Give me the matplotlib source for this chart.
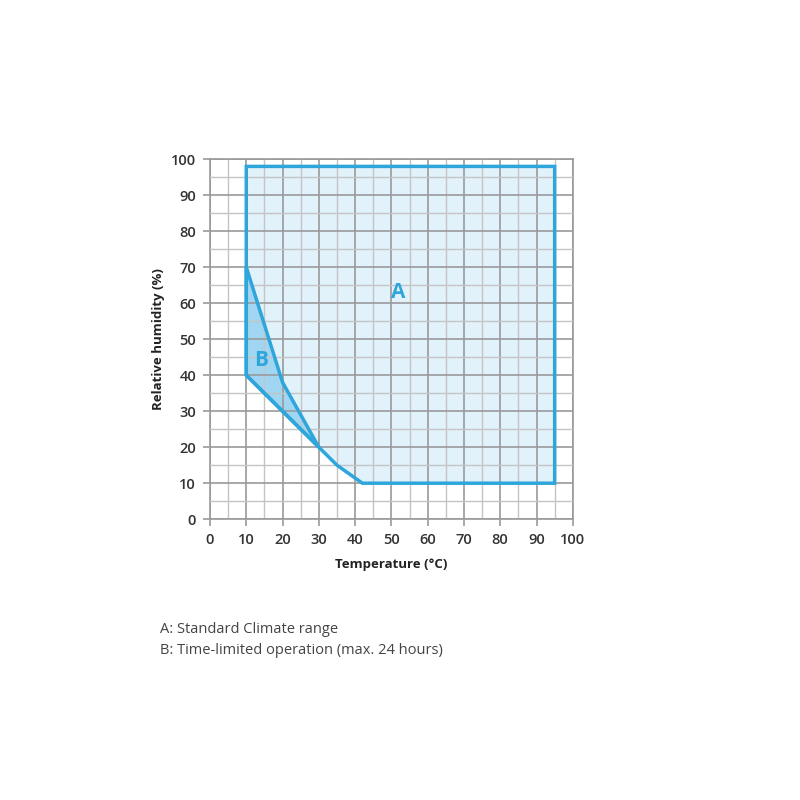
import matplotlib.pyplot as plt
from matplotlib.patches import Polygon

# region outlines (temperature in C, relative humidity in %)
range_a_temp = [10, 95, 95, 42, 35, 30, 20, 10]
range_a_rh = [98, 98, 10, 10, 15, 20, 30, 40]
range_b_temp = [10, 20, 30, 20, 10]
range_b_rh = [70, 38, 20, 30, 40]

line_col = '#2ea6dc'
grid_major = '#9a9a9a'
grid_minor = '#c4c4c4'
text_col = '#333333'

plt.rcParams['font.family'] = ['Open Sans', 'DejaVu Sans']

fig = plt.figure(figsize=(8, 8), dpi=100)
ax = fig.add_axes([0.2625, 0.351, 0.4535, 0.45])

# grid first, then a see-through fill, then outlines
pts_a = list(zip(range_a_temp, range_a_rh))
pts_b = list(zip(range_b_temp, range_b_rh))
ax.add_patch(Polygon(pts_a, closed=True, facecolor='#c9e8f8', alpha=0.55,
                     edgecolor='none', zorder=2))
ax.add_patch(Polygon(pts_b, closed=True, facecolor='#6cc0ea', alpha=0.55,
                     edgecolor='none', zorder=2.1))
ax.add_patch(Polygon(pts_a, closed=True, fill=False, edgecolor=line_col, linewidth=2.5,
                     joinstyle='miter', zorder=3))
ax.add_patch(Polygon(pts_b, closed=True, fill=False, edgecolor=line_col, linewidth=2.5,
                     joinstyle='miter', zorder=4))

ax.text(52, 63, 'A', color=line_col, fontsize=15, fontweight='bold',
        ha='center', va='center', zorder=5)
ax.text(14, 44, 'B', color=line_col, fontsize=15, fontweight='bold',
        ha='center', va='center', zorder=5)

ax.set_xlim(0, 100)
ax.set_ylim(0, 100)
ax.set_xticks(range(0, 101, 10))
ax.set_yticks(range(0, 101, 10))
ax.set_xticks(range(5, 100, 10), minor=True)
ax.set_yticks(range(5, 100, 10), minor=True)
ax.grid(which='major', color=grid_major, linewidth=1.2)
ax.grid(which='minor', color=grid_minor, linewidth=1.0)
ax.set_axisbelow(False)
for line in ax.get_xgridlines() + ax.get_ygridlines():
    line.set_zorder(1)
for s in ax.spines.values():
    s.set_color(grid_major)
    s.set_linewidth(1.2)
    s.set_zorder(1)

ax.tick_params(which='major', length=5, color=grid_major, width=1.2,
               labelsize=10.5, labelcolor=text_col, pad=5)
ax.tick_params(which='minor', length=0)
for lbl in ax.get_xticklabels() + ax.get_yticklabels():
    lbl.set_fontweight('semibold')

ax.set_xlabel('Temperature (°C)', fontsize=9.5, fontweight='bold',
              color='#222222', labelpad=8)
ax.set_ylabel('Relative humidity (%)', fontsize=9.5, fontweight='bold',
              color='#222222', labelpad=4)

fig.text(0.2, 0.209, 'A: Standard Climate range', fontsize=10.5, color='#444444')
fig.text(0.2, 0.183, 'B: Time-limited operation (max. 24 hours)', fontsize=10.5,
         color='#444444')

fig.savefig('out.png', dpi=100)
